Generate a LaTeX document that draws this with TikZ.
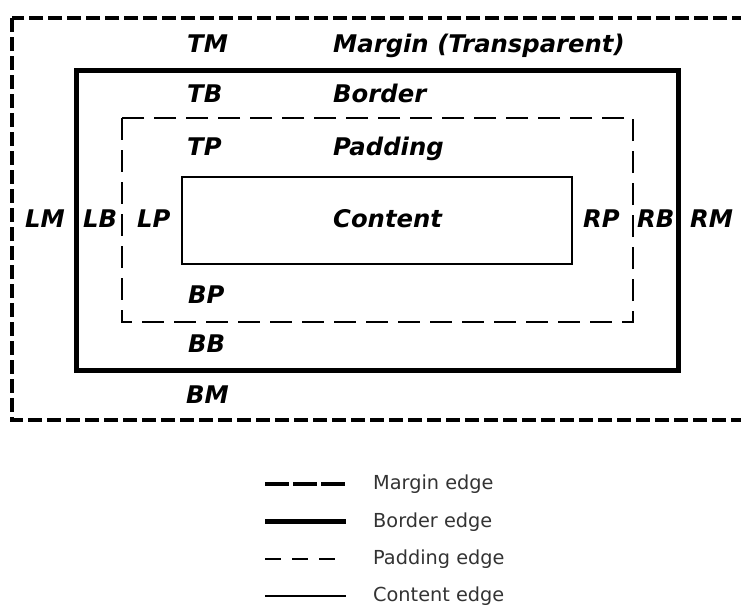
\documentclass[tikz,border=0pt]{standalone}
\usepackage{fontspec}
\setmainfont{DejaVu Sans}
\usetikzlibrary{positioning}

\tikzset{
  marginedge/.style={line width=4.5pt, dash pattern=on 14pt off 5pt},
  borderedge/.style={line width=5pt},
  paddingedge/.style={line width=1.4pt, dash pattern=on 22pt off 10pt},
  contentedge/.style={line width=1.4pt},
  boxlabel/.style={anchor=base west, inner sep=0pt, font=\fontsize{24.3}{29}\selectfont\bfseries\itshape},
  legendlabel/.style={anchor=base west, inner sep=0pt, font=\fontsize{19.3}{23}\selectfont, text=black!80}
}

\begin{document}
\begin{tikzpicture}[x=1pt, y=-1pt]
  % 1. page frame (the margin box runs off to the right)
  \clip (0,0) rectangle (741,605);

  % 2. the four nested edges
  \draw[marginedge] (12,18) rectangle (775,420);
  \draw[borderedge] (76,70) rectangle (678,370);
  \draw[paddingedge] (122,118) rectangle (633,322);
  \draw[contentedge] (182,177) rectangle (572,264);

  % 3. top labels
  \node[boxlabel] (tm) at (187,52) {TM};
  \node[boxlabel] (tmname) at (333,52) {Margin (Transparent)};
  \node[boxlabel] (tb) at (187,102) {TB};
  \node[boxlabel] (tbname) at (333,102) {Border};
  \node[boxlabel] (tp) at (187,155) {TP};
  \node[boxlabel] (tpname) at (333,155) {Padding};

  % 4. middle row
  \node[boxlabel] (lm) at (25,227) {LM};
  \node[boxlabel] (lb) at (83,227) {LB};
  \node[boxlabel] (lp) at (137,227) {LP};
  \node[boxlabel] (content) at (333,227) {Content};
  \node[boxlabel] (rp) at (583,227) {RP};
  \node[boxlabel] (rb) at (637,227) {RB};
  \node[boxlabel] (rm) at (690,227) {RM};

  % 5. bottom labels
  \node[boxlabel] (bp) at (188,303) {BP};
  \node[boxlabel] (bb) at (188,352) {BB};
  \node[boxlabel] (bm) at (186,403) {BM};

  % 6. legend
  \coordinate (m0) at (265,484); \coordinate (m1) at (346,484);
  \coordinate (b0) at (265,521); \coordinate (b1) at (346,521);
  \coordinate (p0) at (265,559); \coordinate (p1) at (346,559);
  \coordinate (c0) at (265,596); \coordinate (c1) at (346,596);
  \draw[marginedge, dash pattern=on 24pt off 4pt] (m0) -- (m1);
  \draw[borderedge] (b0) -- (b1);
  \draw[paddingedge, dash pattern=on 16pt off 11pt] (p0) -- (p1);
  \draw[contentedge] (c0) -- (c1);
  \node[legendlabel] (mlabel) at (373,489) {Margin edge};
  \node[legendlabel] (blabel) at (373,527) {Border edge};
  \node[legendlabel] (plabel) at (373,564) {Padding edge};
  \node[legendlabel] (clabel) at (373,601) {Content edge};
\end{tikzpicture}
\end{document}
